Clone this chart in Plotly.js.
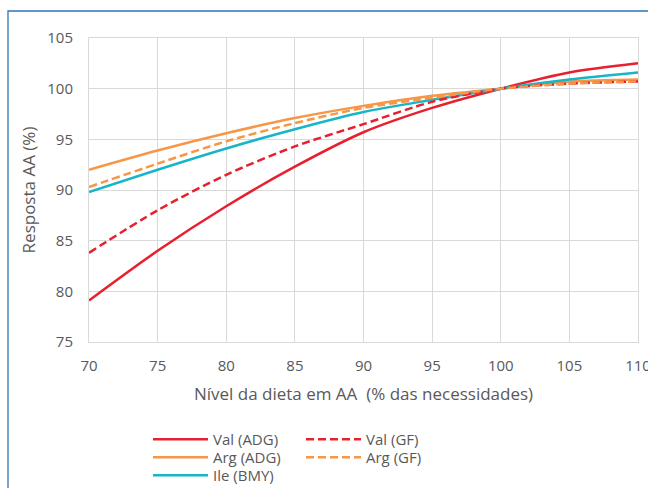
<!DOCTYPE html>
<html>
<head>
<meta charset="utf-8">
<script src="https://cdn.plot.ly/plotly-3.0.1.min.js"></script>
<style>html,body{margin:0;padding:0;background:#fff;}#chart{width:648px;height:488px;}</style>
</head>
<body>
<div id="chart"></div>
<script>
const xLevels = [70, 75, 80, 85, 90, 95, 100, 105, 110];
const valADG = [79.1, 84.0, 88.4, 92.3, 95.7, 98.1, 100.0, 101.6, 102.5];
const valGF  = [83.8, 88.0, 91.5, 94.3, 96.5, 98.7, 100.0, 100.5, 100.7];
const argADG = [92.0, 93.9, 95.6, 97.1, 98.3, 99.3, 100.0, 100.7, 100.9];
const argGF  = [90.3, 92.6, 94.8, 96.6, 98.1, 99.1, 100.0, 100.5, 100.7];
const ileBMY = [89.8, 92.0, 94.1, 96.0, 97.7, 98.9, 100.0, 100.9, 101.6];

const RED = '#E8202E', ORANGE = '#F79646', TEAL = '#17B5C8';
const FONT = 'Open Sans, sans-serif';
const GREY = '#595959';

function tr(name, y, color, dash, legend) {
  return {x: xLevels, y: y, name: name, type: 'scatter', mode: 'lines',
    line: {color: color, width: 2.5, dash: dash, shape: 'spline', smoothing: 0.8},
    legend: legend};
}
const data = [
  tr('Val (ADG)', valADG, RED, 'solid', 'legend'),
  tr('Arg (ADG)', argADG, ORANGE, 'solid', 'legend3'),
  tr('Ile (BMY)', ileBMY, TEAL, 'solid', 'legend5'),
  tr('Val (GF)', valGF, RED, '8px,4px', 'legend2'),
  tr('Arg (GF)', argGF, ORANGE, '8px,4px', 'legend4')
];
const W = 549, H = 304, L = 89, T = 38;
function px(v){ return (v - L) / W; }
function py(v){ return 1 - (v - T) / H; }
function leg(x, y) {
  return {orientation: 'v', xanchor: 'left', yanchor: 'top', bgcolor: 'rgba(0,0,0,0)',
    font: {family: FONT, size: 15, color: GREY}, itemwidth: 55, tracegroupgap: 0,
    x: px(x), y: py(y)};
}
const layout = {
  width: 648, height: 488,
  margin: {l: L, r: 648 - L - W, t: T, b: 488 - T - H, autoexpand: false},
  paper_bgcolor: '#fff', plot_bgcolor: '#fff',
  font: {family: FONT, size: 15, color: GREY},
  xaxis: {range: [70, 110], dtick: 5, tick0: 70, showgrid: true, gridcolor: '#D9D9D9', gridwidth: 1,
    showline: true, linecolor: '#D9D9D9', mirror: true, zeroline: false, ticks: '',
    ticklabelstandoff: 10, ticklabeloverflow: 'allow', automargin: false,
    title: {text: 'Nível da dieta em AA  (% das necessidades)', standoff: 14, font: {family: FONT, size: 17, color: GREY}},
    tickfont: {family: FONT, size: 15, color: GREY}},
  yaxis: {range: [75, 105], dtick: 5, showgrid: true, gridcolor: '#D9D9D9', gridwidth: 1,
    showline: true, linecolor: '#D9D9D9', mirror: true, zeroline: false, ticks: '',
    ticklabelstandoff: 12, automargin: false,
    title: {text: 'Resposta AA (%)', standoff: 7, font: {family: FONT, size: 17, color: GREY}},
    tickfont: {family: FONT, size: 15, color: GREY}},
  showlegend: true,
  legend: leg(148, 423),
  legend3: leg(148, 441),
  legend5: leg(148, 459),
  legend2: leg(301, 423),
  legend4: leg(301, 441),
  shapes: [{type: 'rect', xref: 'paper', yref: 'paper', x0: px(8), x1: px(800), y0: py(11), y1: py(700),
    line: {color: '#2E75B6', width: 1.3}, fillcolor: 'rgba(0,0,0,0)', layer: 'below'}]
};
Plotly.newPlot('chart', data, layout, {displayModeBar: false, staticPlot: true});
</script>
</body>
</html>
